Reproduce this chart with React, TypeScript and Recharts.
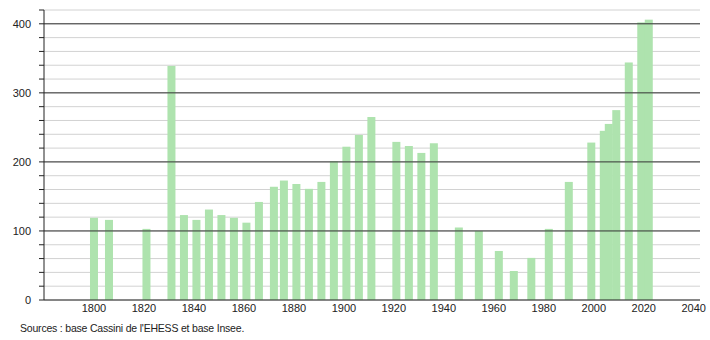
import { Bar, BarChart, CartesianGrid, ReferenceLine, XAxis, YAxis } from "recharts";

// census years and population
const years = [
  1800, 1806, 1821, 1831, 1836, 1841, 1846, 1851, 1856, 1861, 1866, 1872, 1876,
  1881, 1886, 1891, 1896, 1901, 1906, 1911, 1921, 1926, 1931, 1936, 1946, 1954,
  1962, 1968, 1975, 1982, 1990, 1999, 2004, 2006, 2009, 2014, 2019, 2022,
];
const population = [
  119, 116, 103, 339, 123, 116, 131, 123, 119, 112, 142, 164, 173,
  168, 161, 171, 201, 222, 239, 265, 229, 223, 213, 227, 105, 100,
  71, 42, 61, 103, 171, 228, 245, 255, 275, 344, 402, 406,
];

const xTicks = [1800, 1820, 1840, 1860, 1880, 1900, 1920, 1940, 1960, 1980, 2000, 2020, 2040];
const yTicks = [0, 20, 40, 60, 80, 100, 120, 140, 160, 180, 200, 220, 240, 260, 280, 300, 320, 340, 360, 380, 400, 420];
const majorLines = [100, 200, 300, 400];

const data = years.map((year, i) => ({ year, pop: population[i] }));

const BAR_W = 8;
const FONT = "'Liberation Sans', Arial, sans-serif";

// keep every bar 8px wide, centred on its year, even where census years sit close together
function PopBar(props: any) {
  const { x, y, width, height } = props;
  if (!height || height <= 0) return null;
  const cx = x + width / 2;
  return <rect x={cx - BAR_W / 2} y={y} width={BAR_W} height={height} fill="#aee3ae" />;
}

export default function App() {
  return (
    <div style={{ position: "absolute", left: 0, top: 0, width: 710, height: 340, background: "#fff" }}>
      <BarChart
        width={710}
        height={340}
        data={data}
        margin={{ top: 10, right: 10, left: 0, bottom: 0 }}
      >
        <CartesianGrid vertical={false} stroke="#d2d2d2" strokeWidth={1} />
        <XAxis
          dataKey="year"
          type="number"
          domain={[1780, 2042.5]}
          ticks={xTicks}
          allowDataOverflow
          height={40}
          tickLine={false}
          tickSize={0}
          tickMargin={4}
          axisLine={{ stroke: "#222" }}
          tick={{ fontSize: 11, fill: "#222", fontFamily: FONT }}
        />
        <YAxis
          type="number"
          domain={[0, 420]}
          ticks={yTicks}
          interval={0}
          width={44}
          tickSize={5}
          tickMargin={8}
          tickLine={{ stroke: "#222" }}
          axisLine={{ stroke: "#222" }}
          tickFormatter={(v: number) => (v % 100 === 0 ? String(v) : "")}
          tick={{ fontSize: 11, fill: "#222", fontFamily: FONT }}
        />
        {majorLines.map((v) => (
          <ReferenceLine key={v} y={v} stroke="#333" strokeWidth={1} />
        ))}
        <Bar dataKey="pop" shape={PopBar} isAnimationActive={false} />
      </BarChart>
      <div
        style={{
          position: "absolute",
          left: 20,
          top: 322,
          fontSize: 10.5,
          letterSpacing: -0.2,
          fontFamily: FONT,
          color: "#222",
          whiteSpace: "nowrap",
        }}
      >
        Sources : base Cassini de l'EHESS et base Insee.
      </div>
    </div>
  );
}
